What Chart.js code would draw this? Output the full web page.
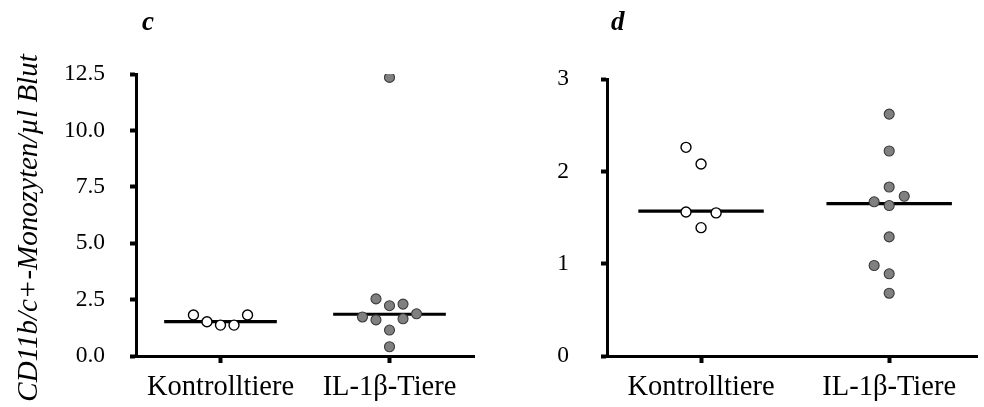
<!DOCTYPE html>
<html>
<head>
<meta charset="utf-8">
<script src="https://cdn.jsdelivr.net/npm/chart.js@4/dist/chart.umd.min.js"></script>
<style>
  body { margin: 0; background: #fff; }
  .panel { position: absolute; top: 0; height: 407px; }
  #panelC { left: 0; width: 490px; }
  #panelD { left: 490px; width: 494px; }
</style>
</head>
<body>
<div class="panel" id="panelC"><canvas id="chartC"></canvas></div>
<div class="panel" id="panelD"><canvas id="chartD"></canvas></div>
<script>
const categories = ["Kontrolltiere", "IL-1β-Tiere"];
const yTitle = "CD11b/c+-Monozyten/µl Blut";

// panel c
const cKontrolle = [1.82, 1.52, 1.37, 1.37, 1.82];
const cKontrolleOffset = [-0.16, -0.08, 0, 0.08, 0.16];
const cIL = [2.53, 2.23, 2.30, 1.73, 1.60, 1.65, 1.87, 1.15, 0.41, 12.35];
const cILOffset = [-0.08, 0, 0.08, -0.16, -0.08, 0.08, 0.16, 0, 0, 0];
const cMedian = [1.52, 1.85];
const cTicks = [0, 2.5, 5, 7.5, 10, 12.5];

// panel d
const dKontrolle = [2.26, 2.08, 1.56, 1.55, 1.39];
const dKontrolleOffset = [-0.08, 0, -0.08, 0.08, 0];
const dIL = [2.62, 2.22, 1.83, 1.73, 1.67, 1.63, 1.29, 0.98, 0.89, 0.68];
const dILOffset = [0, 0, 0, 0.08, -0.08, 0, 0, -0.08, 0, 0];
const dMedian = [1.57, 1.65];
const dTicks = [0, 1, 2, 3];

Chart.defaults.font.family = "'Liberation Serif', 'Times New Roman', serif";
Chart.defaults.color = "#000";

function toPoints(values, offsets, group) {
    return values.map((v, i) => ({ x: group + offsets[i], y: v }));
}

function medianLine(value, group) {
    return [{ x: group - 1 / 3, y: value }, { x: group + 1 / 3, y: value }];
}

// panel letter and (left only) the y axis title
const panelText = {
    id: "panelText",
    afterDraw(chart, args, opts) {
        const ctx = chart.ctx;
        ctx.save();
        ctx.fillStyle = "#000";
        ctx.font = "bold italic 27px 'Liberation Serif'";
        ctx.textBaseline = "alphabetic";
        ctx.fillText(opts.letter, chart.chartArea.left + opts.letterDx, 30);
        if (opts.yTitle) {
            ctx.translate(29, 228);
            ctx.rotate(-Math.PI / 2);
            ctx.font = "italic 29px 'Liberation Serif'";
            ctx.textAlign = "center";
            ctx.textBaseline = "middle";
            ctx.fillText(opts.yTitle, 0, 0);
        }
        ctx.restore();
    }
};

function makeChart(id, cfg) {
    const datasets = [
        {
            data: toPoints(cfg.kontrolle, cfg.kontrolleOffset, 1),
            backgroundColor: "#ffffff",
            borderColor: "#000000",
            borderWidth: 1.4,
            pointRadius: 5,
            order: 1
        },
        {
            data: toPoints(cfg.il, cfg.ilOffset, 2),
            backgroundColor: "#808080",
            borderColor: "#3a3a3a",
            borderWidth: 1.1,
            pointRadius: 5,
            order: 1
        }
    ];
    cfg.median.forEach((m, i) => {
        datasets.push({
            type: "line",
            data: medianLine(m, i + 1),
            borderColor: "#000",
            borderWidth: 3.2,
            pointRadius: 0,
            fill: false,
            order: 2
        });
    });

    return new Chart(document.getElementById(id), {
        type: "scatter",
        data: { datasets: datasets },
        options: {
            responsive: true,
            maintainAspectRatio: false,
            animation: false,
            layout: { padding: { top: cfg.top, right: cfg.right, bottom: 0, left: 0 } },
            plugins: {
                legend: { display: false },
                tooltip: { enabled: false },
                panelText: { letter: cfg.letter, letterDx: cfg.letterDx, yTitle: cfg.yTitle }
            },
            scales: {
                x: {
                    type: "linear",
                    min: 0.5,
                    max: cfg.xMax,
                    afterBuildTicks: (scale) => {
                        scale.ticks = [{ value: 1 }, { value: 2 }];
                    },
                    afterFit: (scale) => { scale.height = 51; },
                    border: { display: true, color: "#000", width: 3 },
                    grid: {
                        drawOnChartArea: false,
                        drawTicks: true,
                        tickLength: 7,
                        tickWidth: 4,
                        tickColor: "#000"
                    },
                    ticks: {
                        padding: 7,
                        font: { size: 28.5 },
                        maxRotation: 0,
                        callback: (v) => categories[v - 1]
                    }
                },
                y: {
                    min: 0,
                    max: cfg.yTicks[cfg.yTicks.length - 1],
                    afterBuildTicks: (scale) => {
                        scale.ticks = cfg.yTicks.map((v) => ({ value: v }));
                    },
                    afterFit: (scale) => { scale.width = cfg.yWidth; },
                    border: { display: true, color: "#000", width: 3 },
                    grid: {
                        drawOnChartArea: false,
                        drawTicks: true,
                        tickLength: 6,
                        tickWidth: 4,
                        tickColor: "#000"
                    },
                    ticks: {
                        padding: cfg.yPad,
                        font: { size: 23.5 },
                        callback: cfg.yFormat
                    }
                }
            }
        },
        plugins: [panelText]
    });
}

makeChart("chartC", {
    kontrolle: cKontrolle, kontrolleOffset: cKontrolleOffset,
    il: cIL, ilOffset: cILOffset, median: cMedian, yTicks: cTicks,
    yFormat: (v) => v.toFixed(1),
    top: 74, right: 16, yWidth: 136, yPad: 25, xMax: 2.5,
    letter: "c", letterDx: 6, yTitle: yTitle
});

makeChart("chartD", {
    kontrolle: dKontrolle, kontrolleOffset: dKontrolleOffset,
    il: dIL, ilOffset: dILOffset, median: dMedian, yTicks: dTicks,
    yFormat: (v) => String(v),
    top: 79, right: 0, yWidth: 117, yPad: 32, xMax: 2.47,
    letter: "d", letterDx: 4, yTitle: null
});
</script>
</body>
</html>
